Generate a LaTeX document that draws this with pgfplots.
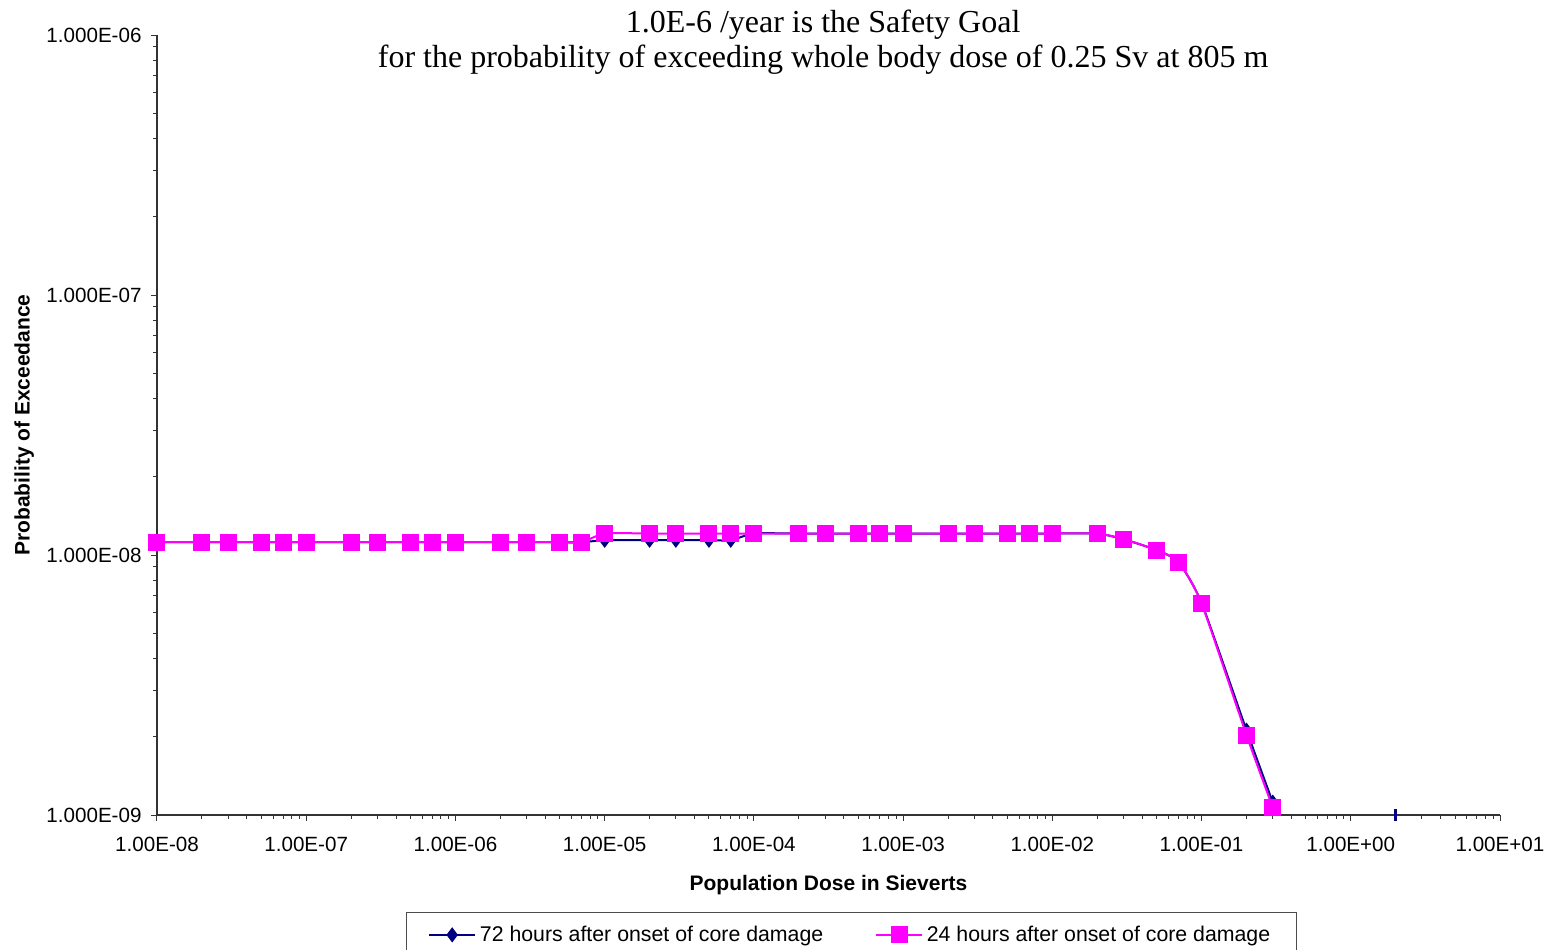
\documentclass[border=0pt]{standalone}
\usepackage{pgfplots}
\pgfplotsset{compat=1.18}
\usepackage{fontspec}
\setmainfont{Liberation Sans}
\newfontfamily\timesfont{Liberation Serif}
\definecolor{navyc}{RGB}{0,0,128}
\definecolor{magc}{RGB}{255,0,255}
\begin{document}
\begin{tikzpicture}
\path[use as bounding box] (-78.5pt,-67pt) rectangle (698pt,407.5pt);
\begin{axis}[
  at={(0pt,0pt)}, anchor=south west,
  scale only axis, width=671.5pt, height=390pt,
  xmode=log, ymode=log,
  xmin=1e-8, xmax=10, ymin=1e-9, ymax=1e-6,
  axis x line*=bottom, axis y line*=left,
  axis line style={black!80, line width=0.6pt},
  every tick/.style={black!80, line width=0.5pt},
  tick align=outside, major tick length=2.8pt, minor tick length=1.8pt,
  xtick={1e-8,1e-7,1e-6,1e-5,1e-4,1e-3,1e-2,1e-1,1,10},
  xticklabels={1.00E-08,1.00E-07,1.00E-06,1.00E-05,1.00E-04,1.00E-03,1.00E-02,1.00E-01,1.00E+00,1.00E+01},
  minor xtick={2e-8,3e-8,4e-8,5e-8,6e-8,7e-8,8e-8,9e-8,
               2e-7,3e-7,4e-7,5e-7,6e-7,7e-7,8e-7,9e-7,
               2e-6,3e-6,4e-6,5e-6,6e-6,7e-6,8e-6,9e-6,
               2e-5,3e-5,4e-5,5e-5,6e-5,7e-5,8e-5,9e-5,
               2e-4,3e-4,4e-4,5e-4,6e-4,7e-4,8e-4,9e-4,
               2e-3,3e-3,4e-3,5e-3,6e-3,7e-3,8e-3,9e-3,
               2e-2,3e-2,4e-2,5e-2,6e-2,7e-2,8e-2,9e-2,
               2e-1,3e-1,4e-1,5e-1,6e-1,7e-1,8e-1,9e-1,
               2,3,4,5,6,7,8,9},
  ytick={1e-9,1e-8,1e-7,1e-6},
  yticklabels={1.000E-09,1.000E-08,1.000E-07,1.000E-06},
  minor ytick={2e-9,3e-9,4e-9,5e-9,6e-9,7e-9,8e-9,9e-9,
               2e-8,3e-8,4e-8,5e-8,6e-8,7e-8,8e-8,9e-8,
               2e-7,3e-7,4e-7,5e-7,6e-7,7e-7,8e-7,9e-7},
  ticklabel style={font=\fontsize{10.3}{12}\selectfont, black},
  xticklabel style={yshift=-4.8pt},
  yticklabel style={xshift=-1.4pt},
  xlabel={Population Dose in Sieverts},
  ylabel={Probability of Exceedance},
  every axis x label/.style={at={(axis description cs:0.5,-0.09615)}, anchor=base, font=\fontsize{10.5}{12}\selectfont\bfseries},
  every axis y label/.style={at={(axis description cs:-0.0949,0.5)}, anchor=base, rotate=90, font=\fontsize{10.5}{12}\selectfont\bfseries},
  clip mode=individual,
  legend columns=2,
  legend style={at={(axis description cs:0.517,-0.1244)}, anchor=north,
    draw=black!70, line width=0.6pt, inner xsep=11pt, inner ysep=4.5pt,
    font=\fontsize{10.65}{12}\selectfont,
    /tikz/every even column/.append style={column sep=24pt}},
  legend cell align=left,
  legend image code/.code={\draw[mark repeat=2,mark phase=2,#1] plot coordinates {(0cm,0cm) (0.4cm,0cm) (0.8cm,0cm)};},
]
\addplot[navyc, line width=1pt, smooth, tension=0.35, mark=diamond*, mark size=3pt, mark options={fill=navyc, solid}] coordinates {
(1e-8,1.12e-8)(2e-8,1.12e-8)(3e-8,1.12e-8)(5e-8,1.12e-8)(7e-8,1.12e-8)
(1e-7,1.12e-8)(2e-7,1.12e-8)(3e-7,1.12e-8)(5e-7,1.12e-8)(7e-7,1.12e-8)
(1e-6,1.12e-8)(2e-6,1.12e-8)(3e-6,1.12e-8)(5e-6,1.12e-8)(7e-6,1.12e-8)
(1e-5,1.14e-8)(2e-5,1.14e-8)(3e-5,1.14e-8)(5e-5,1.14e-8)(7e-5,1.14e-8)
(1e-4,1.21e-8)(2e-4,1.21e-8)(3e-4,1.21e-8)(5e-4,1.21e-8)(7e-4,1.21e-8)
(1e-3,1.21e-8)(2e-3,1.21e-8)(3e-3,1.21e-8)(5e-3,1.21e-8)(7e-3,1.21e-8)
(1e-2,1.21e-8)(2e-2,1.21e-8)(3e-2,1.15e-8)(5e-2,1.045e-8)(7e-2,0.94e-8)
(1e-1,0.655e-8)(2e-1,2.12e-9)(3e-1,1.12e-9)
};
\addlegendentry{72 hours after onset of core damage}
\addplot[magc, line width=1pt, smooth, tension=0.35, mark=square*, mark size=3.75pt, mark options={fill=magc, solid}] coordinates {
(1e-8,1.12e-8)(2e-8,1.12e-8)(3e-8,1.12e-8)(5e-8,1.12e-8)(7e-8,1.12e-8)
(1e-7,1.12e-8)(2e-7,1.12e-8)(3e-7,1.12e-8)(5e-7,1.12e-8)(7e-7,1.12e-8)
(1e-6,1.12e-8)(2e-6,1.12e-8)(3e-6,1.12e-8)(5e-6,1.12e-8)(7e-6,1.12e-8)
(1e-5,1.21e-8)(2e-5,1.21e-8)(3e-5,1.21e-8)(5e-5,1.21e-8)(7e-5,1.21e-8)
(1e-4,1.21e-8)(2e-4,1.21e-8)(3e-4,1.21e-8)(5e-4,1.21e-8)(7e-4,1.21e-8)
(1e-3,1.21e-8)(2e-3,1.21e-8)(3e-3,1.21e-8)(5e-3,1.21e-8)(7e-3,1.21e-8)
(1e-2,1.21e-8)(2e-2,1.21e-8)(3e-2,1.152e-8)(5e-2,1.045e-8)(7e-2,0.94e-8)
(1e-1,0.652e-8)(2e-1,2.03e-9)(3e-1,1.07e-9)
};
\addlegendentry{24 hours after onset of core damage}
\addplot[navyc, only marks, mark=|, mark size=3pt, mark options={line width=1.2pt}, forget plot] coordinates {(2,1e-9)};
\node[anchor=base, font=\timesfont\fontsize{16}{18}\selectfont] at (axis description cs:0.496,1.00346) {1.0E-6 /year is the Safety Goal};
\node[anchor=base, font=\timesfont\fontsize{16}{18}\selectfont] at (axis description cs:0.496,0.95833) {for the probability of exceeding whole body dose of 0.25 Sv at 805 m};
\end{axis}
\end{tikzpicture}
\end{document}
